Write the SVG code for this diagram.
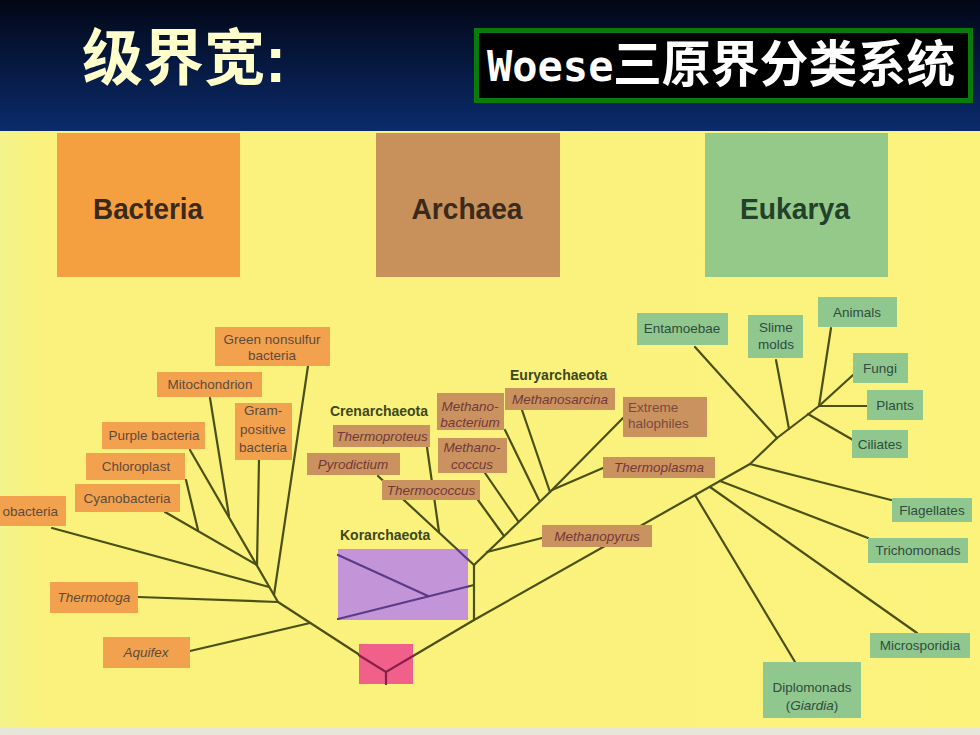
<svg xmlns="http://www.w3.org/2000/svg" width="980" height="735" viewBox="0 0 980 735">
<defs>
<linearGradient id="hdr" x1="0" y1="0" x2="0" y2="1">
<stop offset="0" stop-color="#020716"/>
<stop offset="1" stop-color="#0b2b6c"/>
</linearGradient>
<linearGradient id="bg" x1="0" y1="0" x2="1" y2="0">
<stop offset="0" stop-color="#f2f48c"/>
<stop offset="0.04" stop-color="#faf27c"/>
<stop offset="1" stop-color="#fbf37c"/>
</linearGradient>
<style>
.ln{stroke:#4a5018;stroke-width:2.2;fill:none;stroke-linecap:round;stroke-linejoin:round}
.lp{stroke:#8a2048;stroke-width:2.2;fill:none;stroke-linecap:round}
.lv{stroke:#5a3a8a;stroke-width:2.2;fill:none;stroke-linecap:round}
.bl{fill:#f2a24e}
.al{fill:#c9925e}
.el{fill:#90c78e}
.t{font-family:"Liberation Sans",Arial,sans-serif;font-size:13.5px;text-anchor:middle}
.bt{fill:#5e4a3c}
.at{fill:#74383a;font-style:italic}
.et{fill:#2f4c3c}
.it{font-style:italic}
.grp{font-family:"Liberation Sans",Arial,sans-serif;font-size:14px;font-weight:bold;fill:#3c4820}
.big{font-family:"Liberation Sans",Arial,sans-serif;font-size:29px;font-weight:bold;text-anchor:middle}
</style>
</defs>
<rect x="0" y="0" width="980" height="735" fill="url(#bg)"/>
<rect x="0" y="728" width="980" height="7" fill="#e6e6da"/>
<rect x="0" y="0" width="980" height="131" fill="url(#hdr)"/>
<text x="82" y="80" font-family="'Noto Sans CJK SC',sans-serif" font-weight="bold" font-size="61" fill="#ffffcc">级界宽</text>
<text x="265" y="82" font-family="'Liberation Sans',Arial,sans-serif" font-weight="bold" font-size="64" fill="#ffffcc">:</text>
<g id="title-box">
<rect x="476.5" y="30.5" width="494" height="70" fill="#000" stroke="#0a7a0a" stroke-width="5"/>
<text x="487" y="81" font-family="'DejaVu Sans Mono',monospace" font-weight="bold" font-size="42" fill="#fff">Woese</text>
<text x="613" y="82" font-family="'Noto Sans CJK SC',sans-serif" font-weight="bold" font-size="50" fill="#fff" textLength="342" lengthAdjust="spacingAndGlyphs">三原界分类系统</text>
</g>

<g id="domain-bacteria"><rect x="57" y="133" width="183" height="144" fill="#f5a040"/><text class="big" x="148" y="219" fill="#3a2a1c" textLength="110" lengthAdjust="spacingAndGlyphs">Bacteria</text></g>
<g id="domain-archaea"><rect x="376" y="133" width="184" height="144" fill="#c8905a"/><text class="big" x="467" y="219" fill="#3a2a1c" textLength="111" lengthAdjust="spacingAndGlyphs">Archaea</text></g>
<g id="domain-eukarya"><rect x="705" y="133" width="183" height="144" fill="#94c98a"/><text class="big" x="795" y="219" fill="#23402a" textLength="110" lengthAdjust="spacingAndGlyphs">Eukarya</text></g>

<g id="connectors">
<path class="ln" d="M52,528 L269,587"/>
<path class="ln" d="M165,512 L257,565"/>
<path class="ln" d="M186,480 L198,530"/>
<path class="ln" d="M190,450 L278,602 L386,672"/>
<path class="ln" d="M210,398 L229,516"/>
<path class="ln" d="M259,460 L257,565"/>
<path class="ln" d="M308,366 L274,595"/>
<path class="ln" d="M138,597 L278,602"/>
<path class="ln" d="M190,651 L310,623"/>
<path class="ln" d="M386,672 L386,684"/>
<path class="ln" d="M386,672 L474,620 L474,565"/>
<path class="ln" d="M474,585 L338,619"/>
<path class="ln" d="M338,555 L428,596"/>
<path class="ln" d="M474,565 L550,492"/>
<path class="ln" d="M378,476 L474,565"/>
<path class="ln" d="M427,447 L439,532"/>
<path class="ln" d="M478,500 L504,536"/>
<path class="ln" d="M485,473 L518,521"/>
<path class="ln" d="M505,430 L539,500"/>
<path class="ln" d="M522,410 L550,492"/>
<path class="ln" d="M623,418 L550,492"/>
<path class="ln" d="M603,468 L552,490"/>
<path class="ln" d="M487,552 L542,538"/>
<path class="ln" d="M474,620 L750,464 L777,438 L819,406"/>
<path class="ln" d="M695,347 L777,438"/>
<path class="ln" d="M776,360 L789,429"/>
<path class="ln" d="M853,440 L808,414"/>
<path class="ln" d="M831,328 L819,406"/>
<path class="ln" d="M853,375 L819,406"/>
<path class="ln" d="M867,406 L819,406"/>
<path class="ln" d="M750,464 L891,500"/>
<path class="ln" d="M720,481 L868,538"/>
<path class="ln" d="M710,487 L917,633"/>
<path class="ln" d="M695,495 L795,662"/>
</g>

<g id="root"><rect x="359" y="644" width="54" height="40" fill="#f0608a"/></g>
<g id="korarchaeota"><rect x="338" y="549" width="130" height="71" fill="#c494d8"/><text class="grp" x="340" y="540">Korarchaeota</text></g>

<g id="connectors-inner">
<path class="lp" d="M359,655.3 L386,672 L413,656"/>
<path class="lp" d="M386,672 L386,684"/>
<path class="lv" d="M468,586.5 L338,619"/>
<path class="lv" d="M338,555 L428,596"/>
<path class="lv" d="M456.7,549 L468,559.6"/>
</g>

<g id="green-nonsulfur"><rect class="bl" x="215" y="327" width="115" height="39"/><text class="t bt" x="272" y="344">Green nonsulfur</text><text class="t bt" x="272" y="360">bacteria</text></g>
<g id="mitochondrion"><rect class="bl" x="157" y="372" width="105" height="25"/><text class="t bt" x="210" y="389">Mitochondrion</text></g>
<g id="gram-positive"><rect class="bl" x="235" y="403" width="57" height="57"/><text class="t bt" x="263" y="415">Gram-</text><text class="t bt" x="263" y="434">positive</text><text class="t bt" x="263" y="452">bacteria</text></g>
<g id="purple-bacteria"><rect class="bl" x="102" y="422" width="103" height="27"/><text class="t bt" x="154" y="440">Purple bacteria</text></g>
<g id="chloroplast"><rect class="bl" x="86" y="453" width="99" height="27"/><text class="t bt" x="136" y="471">Chloroplast</text></g>
<g id="cyanobacteria"><rect class="bl" x="75" y="484" width="105" height="28"/><text class="t bt" x="127" y="503">Cyanobacteria</text></g>
<g id="proteobacteria"><rect class="bl" x="0" y="496" width="66" height="30"/><text class="t bt" x="58" y="516" style="text-anchor:end">obacteria</text></g>
<g id="thermotoga"><rect class="bl" x="50" y="582" width="88" height="31"/><text class="t bt it" x="94" y="602">Thermotoga</text></g>
<g id="aquifex"><rect class="bl" x="103" y="637" width="87" height="31"/><text class="t bt it" x="146" y="657">Aquifex</text></g>

<text class="grp" x="330" y="416">Crenarchaeota</text>
<text class="grp" x="510" y="380">Euryarchaeota</text>

<g id="methanobacterium"><rect class="al" x="437" y="393" width="67" height="37"/><text class="t at" x="470" y="411">Methano-</text><text class="t at" x="470" y="427">bacterium</text></g>
<g id="methanosarcina"><rect class="al" x="505" y="388" width="110" height="22"/><text class="t at" x="560" y="404">Methanosarcina</text></g>
<g id="extreme-halophiles"><rect class="al" x="623" y="397" width="84" height="40"/><text class="t" x="628" y="412" fill="#7a4a40" style="text-anchor:start">Extreme</text><text class="t" x="628" y="428" fill="#7a4a40" style="text-anchor:start">halophiles</text></g>
<g id="thermoproteus"><rect class="al" x="333" y="425" width="97" height="22"/><text class="t at" x="382" y="441">Thermoproteus</text></g>
<g id="pyrodictium"><rect class="al" x="307" y="453" width="93" height="22"/><text class="t at" x="353" y="469">Pyrodictium</text></g>
<g id="methanococcus"><rect class="al" x="438" y="438" width="69" height="35"/><text class="t at" x="472" y="452">Methano-</text><text class="t at" x="472" y="469">coccus</text></g>
<g id="thermococcus"><rect class="al" x="382" y="480" width="98" height="20"/><text class="t at" x="431" y="495">Thermococcus</text></g>
<g id="thermoplasma"><rect class="al" x="603" y="457" width="112" height="21"/><text class="t at" x="659" y="472">Thermoplasma</text></g>
<g id="methanopyrus"><rect class="al" x="542" y="525" width="110" height="22"/><text class="t at" x="597" y="541">Methanopyrus</text></g>

<g id="entamoebae"><rect class="el" x="637" y="313" width="91" height="32"/><text class="t et" x="682" y="333">Entamoebae</text></g>
<g id="slime-molds"><rect class="el" x="748" y="315" width="55" height="43"/><text class="t et" x="776" y="332">Slime</text><text class="t et" x="776" y="349">molds</text></g>
<g id="animals"><rect class="el" x="818" y="297" width="79" height="30"/><text class="t et" x="857" y="317">Animals</text></g>
<g id="fungi"><rect class="el" x="853" y="353" width="55" height="30"/><text class="t et" x="880" y="373">Fungi</text></g>
<g id="plants"><rect class="el" x="867" y="390" width="56" height="30"/><text class="t et" x="895" y="410">Plants</text></g>
<g id="ciliates"><rect class="el" x="852" y="430" width="56" height="28"/><text class="t et" x="880" y="449">Ciliates</text></g>
<g id="flagellates"><rect class="el" x="892" y="498" width="80" height="24"/><text class="t et" x="932" y="515">Flagellates</text></g>
<g id="trichomonads"><rect class="el" x="868" y="538" width="100" height="25"/><text class="t et" x="918" y="555">Trichomonads</text></g>
<g id="microsporidia"><rect class="el" x="870" y="633" width="100" height="25"/><text class="t et" x="920" y="650">Microsporidia</text></g>
<g id="diplomonads"><rect class="el" x="763" y="662" width="98" height="56"/><text class="t et" x="812" y="692">Diplomonads</text><text class="t et" x="812" y="710">(<tspan class="it">Giardia</tspan>)</text></g>
</svg>
